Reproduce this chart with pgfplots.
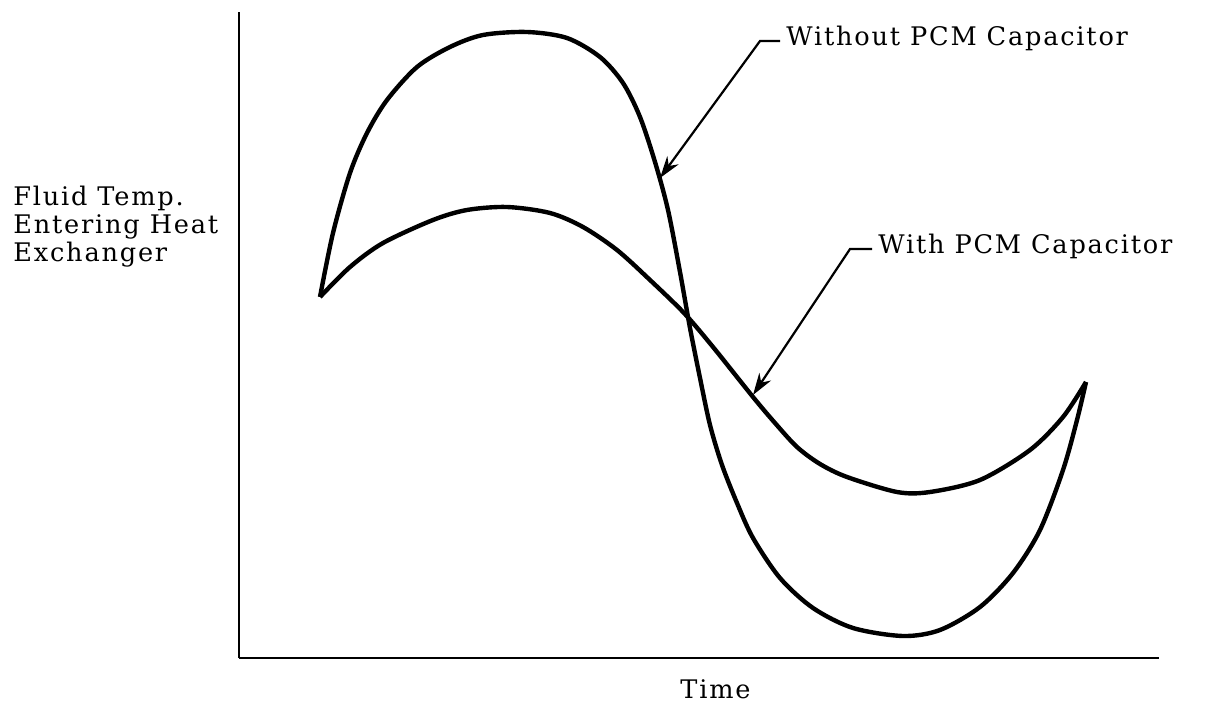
\documentclass[border=0pt]{standalone}
\usepackage{pgfplots}
\pgfplotsset{compat=1.18}
\usepackage{fontspec}
\setmainfont{DejaVu Serif}[LetterSpace=7]
\usetikzlibrary{arrows.meta}

\tikzset{lbl/.style={font=\fontsize{12.8}{15}\selectfont, inner sep=0pt, anchor=base west}}

% time and temperature in arbitrary units
\begin{document}
\begin{tikzpicture}
\begin{axis}[
  x=0.5pt, y=0.5pt,
  xmin=0, xmax=920, ymin=0, ymax=646,
  axis lines=left,
  axis line style={-, line width=1.4pt},
  xtick=\empty, ytick=\empty,
  clip=false,
]
% page area
\path (axis cs:-239,-48) rectangle (axis cs:985,658);

% without PCM capacitor
\addplot[black, line width=2.2pt, smooth] coordinates {
 (81,361) (94,425) (111,485) (128,525) (148,558) (178,591) (211,611)
 (244,623) (288,626) (328,620) (361,601) (384,575) (401,541) (416,496)
 (429,448) (441,386) (451,330) (461,280) (471,233) (483,193) (498,155)
 (514,120) (541,80) (574,50) (614,30) (664,22) (701,28) (741,51)
 (774,85) (801,128) (824,188) (838,238) (847,276)
};
% with PCM capacitor
\addplot[black, line width=2.2pt, smooth] coordinates {
 (81,361) (111,391) (144,415) (194,438) (228,448) (268,451) (311,445)
 (344,431) (378,408) (411,378) (445,345) (474,311) (514,261) (536,235)
 (558,211) (581,194) (608,181) (658,166) (691,166) (741,178) (791,208)
 (824,241) (847,276)
};

\draw[line width=1.1pt, -{Stealth[length=11pt, width=7pt]}]
  (axis cs:541,617) -- (axis cs:521,617) -- (axis cs:421,480);
\draw[line width=1.1pt, -{Stealth[length=11pt, width=7pt]}]
  (axis cs:633,409) -- (axis cs:611,409) -- (axis cs:514,263);

\node[lbl] at (axis cs:547,612) {Without PCM Capacitor};
\node[lbl] at (axis cs:639,404) {With PCM Capacitor};

\node[lbl] at (axis cs:-226,452) {Fluid Temp.};
\node[lbl] at (axis cs:-226,424) {Entering Heat};
\node[lbl] at (axis cs:-226,396) {Exchanger};

\node[lbl] at (axis cs:441,-40) {Time};
\end{axis}
\end{tikzpicture}
\end{document}
